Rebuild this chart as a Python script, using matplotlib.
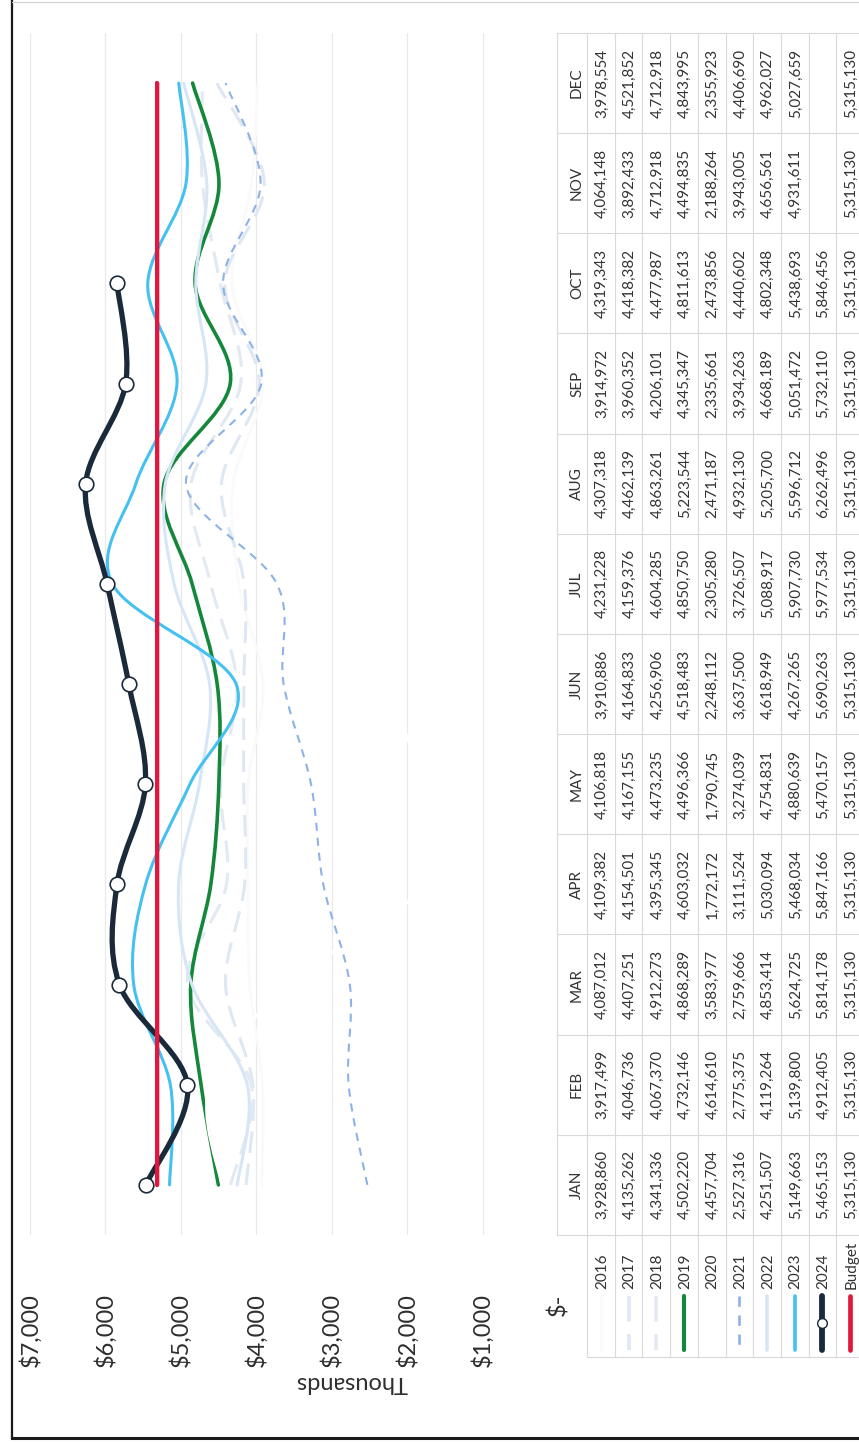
import matplotlib
matplotlib.use("Agg")
import matplotlib.pyplot as plt
from matplotlib.path import Path
from matplotlib.patches import PathPatch
from matplotlib.lines import Line2D
from matplotlib.transforms import blended_transform_factory

plt.rcParams['font.family'] = ['Lato', 'DejaVu Sans']

# monthly revenue by year
months = ['JAN', 'FEB', 'MAR', 'APR', 'MAY', 'JUN', 'JUL', 'AUG', 'SEP', 'OCT', 'NOV', 'DEC']
years = ['2016', '2017', '2018', '2019', '2020', '2021', '2022', '2023', '2024', 'Budget']
rev_2016 = [3928860, 3917499, 4087012, 4109382, 4106818, 3910886, 4231228, 4307318, 3914972, 4319343, 4064148, 3978554]
rev_2017 = [4135262, 4046736, 4407251, 4154501, 4167155, 4164833, 4159376, 4462139, 3960352, 4418382, 3892433, 4521852]
rev_2018 = [4341336, 4067370, 4912273, 4395345, 4473235, 4256906, 4604285, 4863261, 4206101, 4477987, 4712918, 4712918]
rev_2019 = [4502220, 4732146, 4868289, 4603032, 4496366, 4518483, 4850750, 5223544, 4345347, 4811613, 4494835, 4843995]
rev_2020 = [4457704, 4614610, 3583977, 1772172, 1790745, 2248112, 2305280, 2471187, 2335661, 2473856, 2188264, 2355923]
rev_2021 = [2527316, 2775375, 2759666, 3111524, 3274039, 3637500, 3726507, 4932130, 3934263, 4440602, 3943005, 4406690]
rev_2022 = [4251507, 4119264, 4853414, 5030094, 4754831, 4618949, 5088917, 5205700, 4668189, 4802348, 4656561, 4962027]
rev_2023 = [5149663, 5139800, 5624725, 5468034, 4880639, 4267265, 5907730, 5596712, 5051472, 5438693, 4931611, 5027659]
rev_2024 = [5465153, 4912405, 5814178, 5847166, 5470157, 5690263, 5977534, 6262496, 5732110, 5846456]
budget = [5315130, 5315130, 5315130, 5315130, 5315130, 5315130, 5315130, 5315130, 5315130, 5315130, 5315130, 5315130]
value_ticks = [0, 1000, 2000, 3000, 4000, 5000, 6000, 7000]

series = [rev_2016, rev_2017, rev_2018, rev_2019, rev_2020, rev_2021, rev_2022, rev_2023, rev_2024, budget]
styles = [
    dict(color='#fafafa', lw=2.0, dashes=None),
    dict(color='#dfe7f2', lw=2.2, dashes=(3.2, 1.6)),
    dict(color='#e2e9f1', lw=2.2, dashes=(3.2, 1.6)),
    dict(color='#13883a', lw=2.6, dashes=None),
    dict(color='#ffffff', lw=2.4, dashes=None),
    dict(color='#8db2e6', lw=1.5, dashes=(2.6, 2.2)),
    dict(color='#d6e6f6', lw=2.2, dashes=None),
    dict(color='#45c1f1', lw=2.2, dashes=None),
    dict(color='#1b2a3b', lw=3.8, dashes=None),
    dict(color='#e2173d', lw=3.0, dashes=None),
]

W, H = 859, 1442
PX_LEFT, PX_RIGHT, PX_TOP, PX_BOTTOM = 30, 558, 33, 1235


def smooth_path(xs, ys):
    # Catmull-Rom through the points, written out as cubic Bezier segments
    pts = list(zip(xs, ys))
    n = len(pts)
    verts = [pts[0]]
    codes = [Path.MOVETO]
    for i in range(n - 1):
        p0 = pts[i - 1] if i > 0 else pts[i]
        p1 = pts[i]
        p2 = pts[i + 1]
        p3 = pts[i + 2] if i + 2 < n else pts[i + 1]
        c1 = (p1[0] + (p2[0] - p0[0]) / 6, p1[1] + (p2[1] - p0[1]) / 6)
        c2 = (p2[0] - (p3[0] - p1[0]) / 6, p2[1] - (p3[1] - p1[1]) / 6)
        verts += [c1, c2, p2]
        codes += [Path.CURVE4] * 3
    return Path(verts, codes)


fig = plt.figure(figsize=(W / 100, H / 100), dpi=100)

# pixel canvas for frame and table
canvas = fig.add_axes([0, 0, 1, 1])
canvas.set_xlim(0, W)
canvas.set_ylim(H, 0)
canvas.axis('off')

ax = fig.add_axes([PX_LEFT / W, 1 - PX_BOTTOM / H, (PX_RIGHT - PX_LEFT) / W, (PX_BOTTOM - PX_TOP) / H])
ax.set_facecolor('none')
ax.set_xlim(7000, 0)
ax.set_ylim(-0.5, 11.5)
for s in ax.spines.values():
    s.set_visible(False)
ax.set_yticks([])
ax.set_xticks(value_ticks)
ax.set_xticklabels(['$-' if v == 0 else f'${v:,}' for v in value_ticks], rotation=90,
                   fontsize=17, color='#2e2e2e')
ax.tick_params(axis='x', length=0, pad=42)
for v in value_ticks[1:]:
    ax.axvline(v, color='#e9e9e9', lw=0.9, zorder=0)

for vals, st in zip(series, styles):
    xs = [v / 1000 for v in vals]
    ys = list(range(len(vals)))
    patch = PathPatch(smooth_path(xs, ys), facecolor='none', edgecolor=st['color'],
                      lw=st['lw'], capstyle='round', joinstyle='round')
    if st['dashes']:
        patch.set_linestyle((0, tuple(d * st['lw'] for d in st['dashes'])))
        patch.set_capstyle('butt')
    ax.add_patch(patch)

ax.plot([v / 1000 for v in rev_2024], range(len(rev_2024)), linestyle='none', marker='o',
        markersize=10.5, markerfacecolor='white', markeredgecolor='#1b2a3b', markeredgewidth=1.2, zorder=5)
# budget drawn last, over the yearly lines
ax.add_patch(PathPatch(smooth_path([v / 1000 for v in budget], list(range(12))), facecolor='none',
                       edgecolor=styles[-1]['color'], lw=styles[-1]['lw'], capstyle='round', zorder=6))

# data table below the value axis (x in pixels, y in month units)
tt = blended_transform_factory(canvas.transData, ax.transData)
row_x0, row_h = 587, 27.7
rows_end = row_x0 + row_h * len(years)
px_per_month = (PX_BOTTOM - PX_TOP) / 12
key_lo = -0.5 - (1357 - PX_BOTTOM) / px_per_month
grid_c = '#d9d9d9'

canvas_lines = []
canvas_lines.append(([557, 557], [-0.5, 11.5]))
for k in range(len(years) + 1):
    x = row_x0 + row_h * k
    canvas_lines.append(([x, x], [key_lo, 11.5]))
for m in range(13):
    canvas_lines.append(([557, rows_end], [m - 0.5, m - 0.5]))
canvas_lines.append(([row_x0, rows_end], [key_lo, key_lo]))
for xs_, ys_ in canvas_lines:
    canvas.plot(xs_, ys_, color=grid_c, lw=0.8, transform=tt, clip_on=False, zorder=1)

txt = dict(rotation=90, color='#333333', transform=tt, clip_on=False)
for m, name in enumerate(months):
    canvas.text(577, m, name, ha='center', va='center', fontsize=11, **txt)

for r, (label, vals) in enumerate(zip(years, series)):
    xc = row_x0 + row_h * (r + 0.5) + 1
    for m, v in enumerate(vals):
        canvas.text(xc, m, f'{v:,}', ha='center', va='center', fontsize=11, **txt)
    label_y = -0.5 - (1289 - PX_BOTTOM) / px_per_month
    canvas.text(xc, label_y, label, ha='center', va='bottom', fontsize=11, **txt)
    st = styles[r]
    k0 = -0.5 - (1296 - PX_BOTTOM) / px_per_month
    k1 = -0.5 - (1350 - PX_BOTTOM) / px_per_month
    key = Line2D([xc - 1, xc - 1], [k0, k1], color=st['color'], lw=st['lw'] + 0.4,
                 solid_capstyle='round', transform=tt, clip_on=False, zorder=3)
    if st['dashes']:
        key.set_dashes(tuple(d * st['lw'] for d in st['dashes']))
    canvas.add_line(key)
    if label == '2024':
        canvas.plot([xc - 1], [(k0 + k1) / 2], marker='o', markersize=7, markerfacecolor='white',
                    markeredgecolor='#1b2a3b', markeredgewidth=1.0, transform=tt, clip_on=False, zorder=4)

# axis title and page frame
canvas.text(352, 1382, 'Thousands', rotation=180, ha='center', va='center', fontsize=17, color='#2e2e2e')
canvas.plot([12, 12], [0, 1438], color='#1a1a1a', lw=1.6)
canvas.plot([12, W], [1438, 1438], color='#1a1a1a', lw=2.2)
canvas.plot([12, W], [2, 2], color='#d0d0d0', lw=0.8)

fig.savefig('out.png', dpi=100)
